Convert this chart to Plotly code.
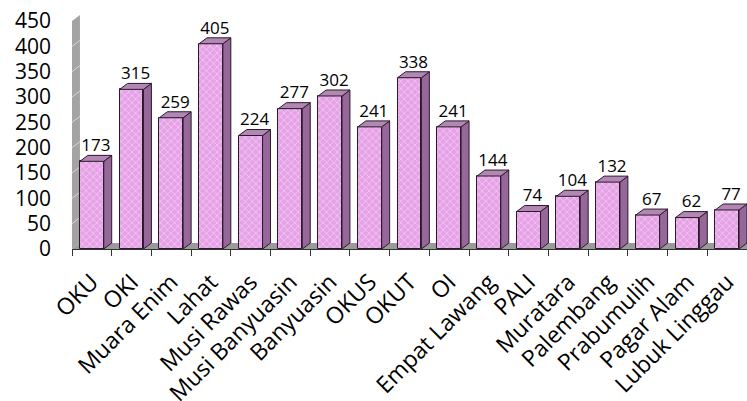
import plotly.graph_objects as go

categories = ["OKU", "OKI", "Muara Enim", "Lahat", "Musi Rawas", "Musi Banyuasin",
              "Banyuasin", "OKUS", "OKUT", "OI", "Empat Lawang", "PALI", "Muratara",
              "Palembang", "Prabumulih", "Pagar Alam", "Lubuk Linggau"]
values = [173, 315, 259, 405, 224, 277, 302, 241, 338, 241, 144, 74, 104, 132, 67, 62, 77]
y_ticks = [0, 50, 100, 150, 200, 250, 300, 350, 400, 450]

# 3D look parameters (depth in axis units)
DX = 0.2
DY = 11.8
HALF = 0.3

FRONT = "#E6A2E6"
SIDE = "#96689A"
TOP = "#B287B4"
EDGE = "#2a1a2a"
FONT = "Open Sans"

xs = list(range(len(categories)))

side_x, side_y, top_x, top_y = [], [], [], []
for i, v in zip(xs, values):
    side_x += [i + HALF, i + HALF + DX, i + HALF + DX, i + HALF, i + HALF, None]
    side_y += [0, DY, v + DY, v, 0, None]
    top_x += [i - HALF, i + HALF, i + HALF + DX, i - HALF + DX, i - HALF, None]
    top_y += [v, v, v + DY, v + DY, v, None]

fig = go.Figure()

fig.add_trace(go.Bar(
    x=xs, y=values, width=2 * HALF,
    marker=dict(color=FRONT, line=dict(color=EDGE, width=1),
                pattern=dict(shape="x", fgcolor="#F6D2F6", bgcolor=FRONT,
                             size=5, solidity=0.25, fillmode="replace")),
    hoverinfo="skip", showlegend=False,
))
fig.add_trace(go.Scatter(
    x=side_x, y=side_y, mode="lines", fill="toself", fillcolor=SIDE,
    line=dict(color=EDGE, width=1), hoverinfo="skip", showlegend=False,
))
fig.add_trace(go.Scatter(
    x=top_x, y=top_y, mode="lines", fill="toself", fillcolor=TOP,
    line=dict(color=EDGE, width=1), hoverinfo="skip", showlegend=False,
))
fig.add_trace(go.Scatter(
    x=[i + DX / 2 for i in xs], y=[v + DY for v in values],
    mode="text", text=[str(v) for v in values], textposition="top center",
    textfont=dict(family=FONT, size=17, color="#000000"),
    hoverinfo="skip", showlegend=False, cliponaxis=False,
))

n = len(categories)
shapes = [
    # floor
    dict(type="path", xref="x", yref="y", layer="below",
         path=f"M -0.5 0 L {n + 0.5} 0 L {n + 0.5} {DY} L {-0.5 + DX} {DY} Z",
         fillcolor="#9A9A9A", line=dict(width=0)),
    # side wall
    dict(type="path", xref="x", yref="y", layer="below",
         path=f"M -0.5 0 L -0.5 {y_ticks[-1]} L {-0.5 + DX} {y_ticks[-1] + DY} L {-0.5 + DX} {DY} Z",
         fillcolor="#A3A3A3", line=dict(width=0)),
]
for t in y_ticks[1:-1]:
    shapes.append(dict(type="line", xref="x", yref="y", layer="below",
                       x0=-0.5, y0=t, x1=-0.5 + DX, y1=t + DY,
                       line=dict(color="rgba(255,255,255,0.55)", width=1)))

fig.update_layout(
    width=747, height=401,
    margin=dict(l=72, r=0, t=0, b=152),
    paper_bgcolor="white", plot_bgcolor="white",
    bargap=0, shapes=shapes,
    font=dict(family=FONT, color="#000000"),
    xaxis=dict(range=[-0.5, n - 0.5], tickmode="array", tickvals=xs,
               ticktext=categories, tickangle=-45, ticks="", showgrid=False,
               zeroline=False, showline=False, automargin=False,
               ticklabelstandoff=14,
               tickfont=dict(family=FONT, size=23, color="#000000")),
    xaxis2=dict(range=[-0.5, n - 0.5], overlaying="x", side="bottom",
                anchor="y", tickmode="array",
                tickvals=[i - 0.5 for i in range(n + 1)],
                showticklabels=False, ticks="outside", ticklen=6,
                tickcolor="#333333", showline=True, linecolor="#333333",
                linewidth=1, showgrid=False, zeroline=False),
    yaxis=dict(range=[0, 491.4], tickmode="array", tickvals=y_ticks,
               showgrid=False, zeroline=False, showline=False, ticks="",
               ticklabelstandoff=20, automargin=False,
               tickfont=dict(family=FONT, size=21, color="#000000")),
)
# dummy trace to activate xaxis2
fig.add_trace(go.Scatter(x=[None], y=[None], xaxis="x2", yaxis="y",
                         showlegend=False, hoverinfo="skip"))

fig.write_html("out.html", config={"displayModeBar": False},
               post_script="document.body.style.margin='0';document.body.style.overflow='hidden';")
